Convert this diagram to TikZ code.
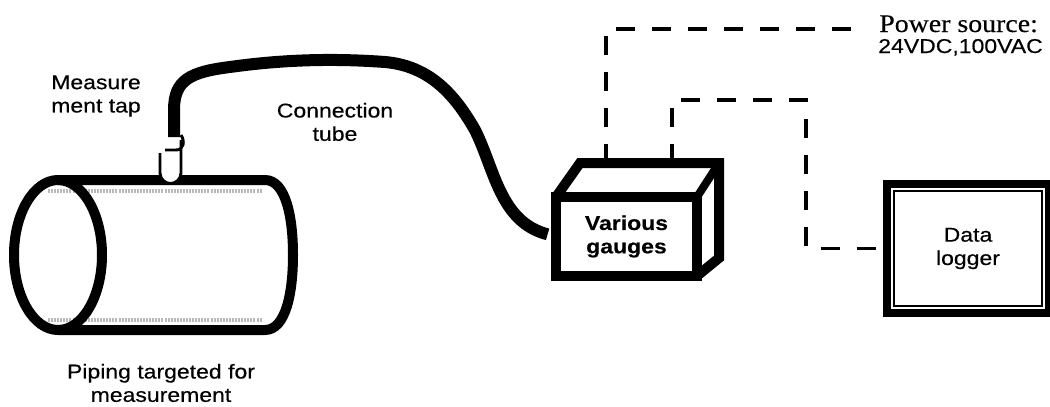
\documentclass[tikz,border=0pt]{standalone}
\usepackage{fontspec}
\setmainfont{Liberation Sans}[FakeStretch=1.15, FakeBold=0.4]
\newfontfamily\psfont{Liberation Serif}[FakeStretch=1.1, FakeBold=0.3]
\begin{document}
\begin{tikzpicture}[x=0.75pt,y=-0.75pt,
    lbl/.style={inner sep=0pt, align=center, font=\fontsize{15}{17.5}\selectfont},
    pipeline/.style={line width=7.5pt, line join=round},
    shade/.style={line width=2.5pt, color=gray!55, dash pattern=on 1.5pt off 0.8pt},
    tubeline/.style={line width=9pt},
    wire/.style={line width=2.6pt, dash pattern=on 14.25pt off 12.75pt}]
  \useasboundingbox (0,0) rectangle (1050,407);
  % pipe
  \foreach \yy in {191,320}
    \draw[shade] (48,\yy) -- (262,\yy);
  \draw[pipeline] (58,180) -- (265,180)
    .. controls (286,180) and (293,218) .. (293,255)
    .. controls (293,292) and (286,330) .. (265,330) -- (58,330);
  \draw[pipeline] (58,255) ellipse[x radius=44, y radius=75];
  % tap
  \filldraw[fill=white, line width=2.2pt] (160,153) -- (160,173)
    arc[start angle=180, end angle=0, radius=10.5] -- (181,140);
  \draw[line width=2.2pt] (165,150) -- (176,150) .. controls (184,150) and (185,141) .. (181,135);
  \coordinate (tap) at (174,137);
  % gauges
  \node[draw, line width=7.5pt, outer sep=0pt, minimum width=105.75pt, minimum height=59.25pt,
    lbl, font=\fontsize{15}{17.5}\selectfont\bfseries] (gauges) at (626.5,236.5) {Various\\gauges};
  \draw[line width=7.5pt, line join=miter] (gauges.north west) -- (580,163) -- (719,163)
    -- (719,258) -- (gauges.south east);
  \draw[line width=6pt] (gauges.north east) -- (719,163);
  \coordinate (g1) at (606,163);
  \coordinate (g2) at (672,163);
  % tube
  \draw[tubeline, shorten >=6.5pt] (tap) -- (174,110)
    .. controls (174,80) and (190,72) .. (230,67)
    .. controls (280,60) and (330,58) .. (385,62)
    .. controls (430,66) and (455,95) .. (475,130)
    .. controls (495,170) and (500,222) .. (gauges.west);
  % logger
  \node[draw, line width=6pt, outer sep=0pt, minimum width=121.5pt, minimum height=96.75pt,
    lbl] (logger) at (968,248.5) {Data\\logger};
  \draw[line width=1.5pt] ([shift={(7,7)}]logger.north west) rectangle ([shift={(-7,-7)}]logger.south east);
  % labels
  \node[lbl] (taplbl) at (96,96) {Measure\\ment tap};
  \node[lbl] (tubelbl) at (335,122) {Connection\\tube};
  \node[lbl] (pipelbl) at (161,383) {Piping targeted for\\measurement};
  \node[lbl, anchor=base west, font=\psfont\fontsize{19}{21}\selectfont] (power) at (879,32) {Power source:};
  \node[lbl, anchor=base west] (supply) at (878,53) {24VDC,100VAC};
  % wiring
  \draw[wire, shorten >=12pt] (g1) |- ([yshift=-3.75pt]power.west);
  \draw[wire] (g2) |- (806,100) |- (logger.west);
\end{tikzpicture}
\end{document}
